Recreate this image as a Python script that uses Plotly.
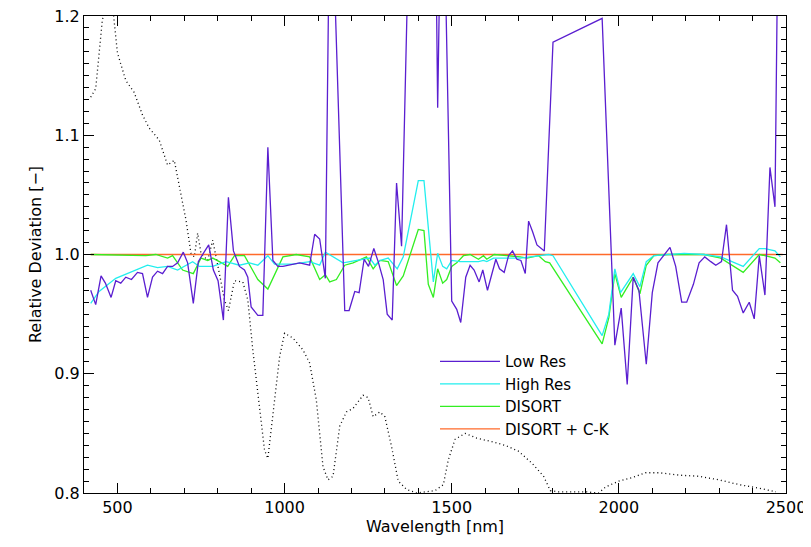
import plotly.graph_objects as go

# Low Res
low_wl = [420, 435, 451, 464, 481, 495, 510, 525, 542, 560, 575, 590, 605, 620, 635, 650, 665, 680, 697, 710,
          727, 742, 757, 773, 787, 801, 817, 832, 847, 865, 880, 890, 900, 920, 935, 950, 965, 980, 995, 1015,
          1045, 1075, 1090, 1105, 1122, 1133, 1147, 1180, 1193, 1210, 1223, 1238, 1251, 1267, 1280, 1295, 1307, 1322, 1335, 1350,
          1370, 1453, 1458, 1465, 1480, 1500, 1515, 1527, 1542, 1555, 1567, 1582, 1593, 1607, 1632, 1643, 1657, 1670, 1682, 1695,
          1707, 1720, 1730, 1742, 1755, 1777, 1803, 1950, 1988, 2007, 2025, 2043, 2060, 2082, 2100, 2117, 2135, 2153, 2170, 2188,
          2203, 2223, 2240, 2257, 2275, 2290, 2307, 2322, 2340, 2355, 2372, 2390, 2405, 2420, 2437, 2452, 2467, 2475, 2490]
low_val = [0.970, 0.958, 0.982, 0.976, 0.964, 0.978, 0.976, 0.981, 0.979, 0.985, 0.984, 0.964, 0.981, 0.986, 0.984, 0.990, 0.990, 0.993, 1.002, 0.993,
           0.959, 0.994, 1.001, 1.008, 0.987, 0.978, 0.945, 1.048, 1.003, 0.990, 0.987, 0.981, 0.956, 0.949, 0.949, 1.090, 0.995, 0.990, 0.990, 0.991,
           0.993, 0.991, 1.017, 1.013, 0.980, 1.25, 1.25, 0.953, 0.953, 0.969, 0.968, 0.996, 0.990, 1.005, 0.994, 0.979, 0.950, 0.945, 1.060, 1.007,
           1.25, 1.25, 1.123, 1.25, 1.25, 0.961, 0.954, 0.943, 0.981, 0.991, 0.987, 0.977, 0.987, 0.970, 0.996, 0.988, 0.985, 0.999, 1.003, 0.996,
           0.995, 0.984, 1.028, 1.019, 1.008, 1.003, 1.178, 1.198, 0.924, 0.955, 0.891, 0.981, 0.970, 0.908, 0.968, 0.993, 1.000, 1.006, 0.990, 0.960,
           0.960, 0.975, 0.993, 0.998, 0.994, 0.991, 0.994, 1.025, 0.970, 0.965, 0.951, 0.960, 0.946, 0.999, 0.966, 1.073, 1.040, 1.25, 1.25]

# High Res
high_wl = [420, 445, 495, 545, 590, 620, 650, 680, 725, 745, 785, 825, 865, 895, 920, 950, 970, 1025, 1075, 1105,
           1122, 1175, 1235, 1255, 1270, 1285, 1310, 1337, 1355, 1400, 1417, 1427, 1445, 1458, 1473, 1485, 1500, 1525, 1580, 1595,
           1605, 1625, 1705, 1735, 1790, 1803, 1950, 1970, 1988, 2005, 2043, 2063, 2082, 2105, 2195, 2255, 2305, 2372, 2420, 2437,
           2467, 2483]
high_val = [0.959, 0.969, 0.980, 0.986, 0.991, 0.989, 0.990, 0.987, 0.994, 0.990, 0.990, 0.994, 0.991, 0.993, 0.991, 0.999, 0.992, 0.992, 0.994, 0.991,
            1.002, 0.993, 0.996, 0.997, 0.991, 0.995, 0.997, 0.988, 0.998, 1.062, 1.062, 1.032, 0.977, 1.001, 0.990, 0.988, 0.995, 0.994, 0.994, 0.995,
            0.994, 0.997, 0.997, 0.998, 1.000, 0.999, 0.932, 0.950, 0.988, 0.968, 0.984, 0.973, 0.994, 0.999, 1.001, 1.000, 0.998, 0.990, 1.005, 1.005,
            1.003, 0.998]

# DISORT
dis_wl = [420, 585, 615, 650, 665, 695, 727, 750, 770, 785, 805, 830, 850, 880, 920, 950, 995, 1035, 1075, 1105,
          1122, 1135, 1155, 1180, 1205, 1245, 1265, 1285, 1310, 1335, 1355, 1400, 1417, 1430, 1445, 1458, 1473, 1485, 1500, 1515,
          1535, 1555, 1580, 1595, 1605, 1627, 1705, 1725, 1760, 1780, 1793, 1950, 1970, 1988, 2007, 2043, 2063, 2082, 2105, 2145,
          2255, 2305, 2372, 2420, 2437, 2467, 2483]
dis_val = [1.000, 0.999, 1.000, 0.997, 0.999, 0.987, 0.984, 0.997, 0.995, 0.997, 0.994, 0.990, 0.999, 0.999, 0.979, 0.971, 0.998, 1.000, 0.998, 0.979,
           0.983, 0.977, 0.979, 0.991, 0.993, 0.998, 0.988, 0.995, 0.994, 0.974, 0.982, 1.021, 1.020, 0.975, 0.964, 0.988, 0.976, 0.979, 0.990, 0.993,
           0.999, 1.000, 0.996, 0.999, 0.996, 1.000, 0.998, 0.997, 0.999, 0.994, 0.993, 0.925, 0.947, 0.984, 0.964, 0.981, 0.967, 0.991, 0.999, 1.000,
           1.000, 0.997, 0.985, 1.000, 0.999, 0.997, 0.993]

# DISORT + C-K
ck_wl = [420, 2490]
ck_val = [1.000, 1.000]

# scaled solar spectrum (dotted)
sun_wl = [420, 435, 455, 470, 485, 500, 525, 550, 575, 595, 625, 650, 670, 685, 705, 720, 730, 740, 750, 770,
          785, 805, 820, 832, 850, 875, 890, 905, 925, 940, 950, 965, 985, 1000, 1025, 1055, 1075, 1095, 1115, 1130,
          1145, 1165, 1185, 1205, 1235, 1250, 1265, 1285, 1300, 1320, 1340, 1365, 1395, 1450, 1475, 1490, 1510, 1540, 1575, 1620,
          1660, 1700, 1740, 1775, 1795, 1820, 1900, 1940, 1960, 2000, 2040, 2080, 2120, 2180, 2240, 2300, 2360, 2420, 2470]
sun_val = [1.132, 1.139, 1.197, 1.21, 1.21, 1.169, 1.146, 1.136, 1.117, 1.106, 1.096, 1.075, 1.079, 1.057, 1.029, 1.001, 0.998, 1.018, 1.001, 0.995,
           1.012, 0.984, 0.962, 0.953, 0.978, 0.977, 0.962, 0.920, 0.869, 0.836, 0.829, 0.864, 0.914, 0.934, 0.930, 0.920, 0.909, 0.878, 0.822, 0.811,
           0.814, 0.856, 0.868, 0.871, 0.882, 0.880, 0.864, 0.868, 0.864, 0.839, 0.810, 0.803, 0.800, 0.802, 0.807, 0.828, 0.845, 0.850, 0.846, 0.843,
           0.840, 0.835, 0.825, 0.814, 0.802, 0.801, 0.801, 0.800, 0.805, 0.810, 0.813, 0.817, 0.817, 0.815, 0.814, 0.811, 0.807, 0.804, 0.801]

fig = go.Figure()
fig.add_trace(go.Scatter(x=sun_wl, y=sun_val, mode="lines", showlegend=False,
                         line=dict(color="black", width=1.3, dash="1px,3px")))
fig.add_trace(go.Scatter(x=ck_wl, y=ck_val, mode="lines", name="DISORT + C-K",
                         line=dict(color="#ff6a2a", width=1.3)))
fig.add_trace(go.Scatter(x=dis_wl, y=dis_val, mode="lines", name="DISORT",
                         line=dict(color="#33ee22", width=1.3)))
fig.add_trace(go.Scatter(x=high_wl, y=high_val, mode="lines", name="High Res",
                         line=dict(color="#22eeee", width=1.3)))
fig.add_trace(go.Scatter(x=low_wl, y=low_val, mode="lines", name="Low Res",
                         line=dict(color="#5a1ed0", width=1.3)))

axis_common = dict(showgrid=False, zeroline=False, showline=True, linecolor="black", linewidth=1,
                   mirror="allticks", ticks="inside", tickcolor="black", automargin=False,
                   ticklabeloverflow="allow",
                   tickfont=dict(family="DejaVu Sans", size=16, color="black"))
fig.update_xaxes(range=[400, 2500], tickvals=[500, 1000, 1500, 2000, 2500], ticklen=10,
                 minor=dict(dtick=100, ticks="inside", ticklen=5, tickcolor="black"),
                 title=dict(text="Wavelength [nm]", font=dict(family="DejaVu Sans", size=16, color="black"), standoff=2),
                 **axis_common)
fig.update_yaxes(range=[0.8, 1.2], tickvals=[0.8, 0.9, 1.0, 1.1, 1.2], tickformat=".1f", ticklen=10,
                 minor=dict(dtick=0.01, ticks="inside", ticklen=5, tickcolor="black"),
                 title=dict(text="Relative Deviation [−]", font=dict(family="DejaVu Sans", size=16, color="black"), standoff=8),
                 **axis_common)
# page body adds an 8px offset, so the figure is a bit smaller than the window
fig.update_layout(width=803, height=539, plot_bgcolor="white", paper_bgcolor="white",
                  margin=dict(l=76, r=25, t=8, b=54, autoexpand=False),
                  legend=dict(x=0.5, y=0.31, xanchor="left", yanchor="top", traceorder="reversed",
                              bgcolor="rgba(0,0,0,0)", font=dict(family="DejaVu Sans", size=15, color="black"),
                              itemwidth=60, tracegroupgap=0))
fig.write_html("out.html")
